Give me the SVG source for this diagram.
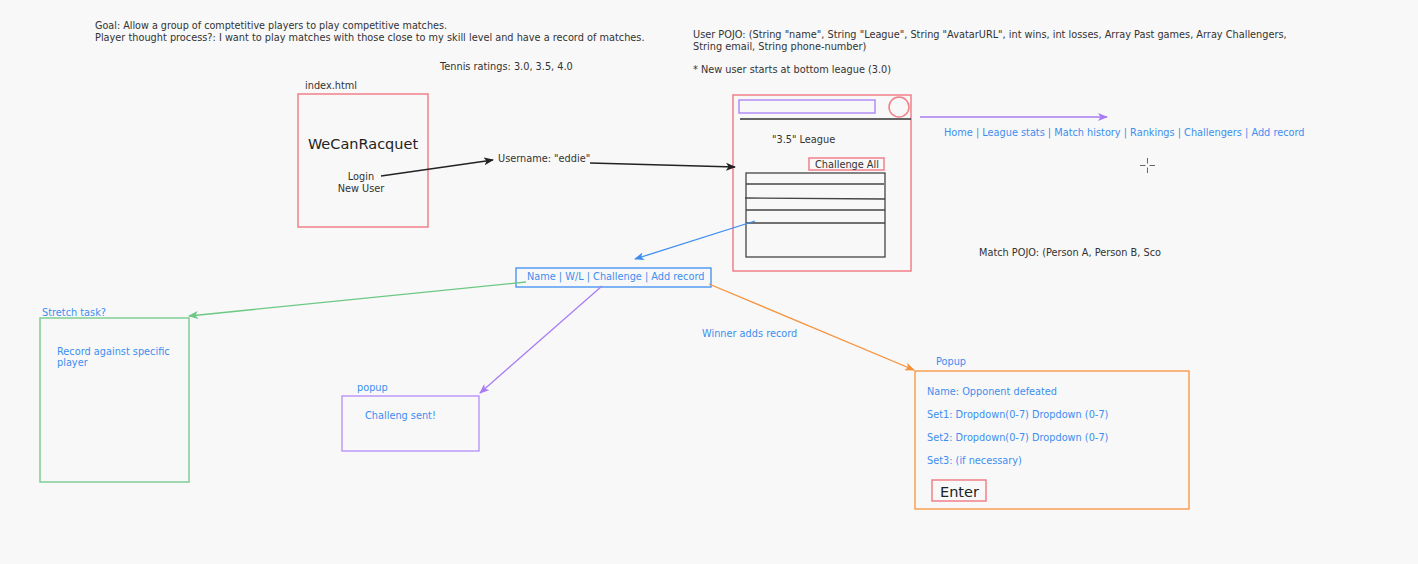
<svg xmlns="http://www.w3.org/2000/svg" width="1418" height="564" viewBox="0 0 1418 564">
  <style>
    text { font-family: "DejaVu Sans", Verdana, sans-serif; font-size: 9.75px; fill: #333; }
    .blue { fill: #3d8ef0; }
    .big { font-size: 14.5px; fill: #222; }
    .red { fill: none; stroke: #f08088; stroke-width: 1.5; }
    .dark { fill: none; stroke: #444; stroke-width: 1.3; }
    .conn { fill: none; stroke-width: 1.3; }
  </style>
  <defs>
    <marker id="ahBlack" markerWidth="10" markerHeight="8" refX="9" refY="4" orient="auto" markerUnits="userSpaceOnUse">
      <path d="M0,0 L10,4 L0,8 L2.5,4 Z" fill="#222"/>
    </marker>
    <marker id="ahBlue" markerWidth="10" markerHeight="8" refX="9" refY="4" orient="auto" markerUnits="userSpaceOnUse">
      <path d="M0,0 L10,4 L0,8 L2.5,4 Z" fill="#3d8ef0"/>
    </marker>
    <marker id="ahPurple" markerWidth="10" markerHeight="8" refX="9" refY="4" orient="auto" markerUnits="userSpaceOnUse">
      <path d="M0,0 L10,4 L0,8 L2.5,4 Z" fill="#a97cf5"/>
    </marker>
    <marker id="ahGreen" markerWidth="10" markerHeight="8" refX="9" refY="4" orient="auto" markerUnits="userSpaceOnUse">
      <path d="M0,0 L10,4 L0,8 L2.5,4 Z" fill="#6cc883"/>
    </marker>
    <marker id="ahOrange" markerWidth="10" markerHeight="8" refX="9" refY="4" orient="auto" markerUnits="userSpaceOnUse">
      <path d="M0,0 L10,4 L0,8 L2.5,4 Z" fill="#f7913a"/>
    </marker>
  </defs>
  <rect width="1418" height="564" fill="#f8f8f8"/>

  <!-- notes -->
  <g id="notes">
    <text x="95" y="29" textLength="352" lengthAdjust="spacingAndGlyphs">Goal: Allow a group of comptetitive players to play competitive matches.</text>
    <text x="95" y="41">Player thought process?: I want to play matches with those close to my skill level and have a record of matches.</text>
    <text x="440" y="70">Tennis ratings: 3.0, 3.5, 4.0</text>
    <text x="693" y="38">User POJO: (String "name", String "League", String "AvatarURL", int wins, int losses, Array Past games, Array Challengers,</text>
    <text x="693" y="50">String email, String phone-number)</text>
    <text x="693" y="73">* New user starts at bottom league (3.0)</text>
    <text x="979" y="256">Match POJO: (Person A, Person B, Sco</text>
    <text x="702" y="337" class="blue">Winner adds record</text>
  </g>

  <!-- landing page -->
  <g id="index">
    <text x="305" y="89">index.html</text>
    <rect x="298" y="94" width="130" height="133" class="red"/>
    <text x="363" y="149" class="big" text-anchor="middle">WeCanRacquet</text>
    <text x="361" y="180" text-anchor="middle">Login</text>
    <text x="361" y="192" text-anchor="middle">New User</text>
  </g>

  <g id="username">
    <text x="498" y="162">Username: "eddie"</text>
  </g>

  <!-- league page mockup -->
  <g id="league">
    <rect x="733" y="95" width="178" height="176" class="red"/>
    <rect x="739" y="100" width="136" height="13" fill="none" stroke="#b48cf7" stroke-width="1.5"/>
    <circle cx="899" cy="107" r="10" class="red"/>
    <line x1="740" y1="119" x2="911" y2="119" stroke="#333" stroke-width="1.6"/>
    <text x="772" y="143">"3.5" League</text>
    <rect x="809" y="158" width="75" height="12" class="red"/>
    <text x="815" y="168" fill="#222">Challenge All</text>
    <rect x="746" y="173" width="139" height="84" class="dark"/>
    <line x1="746" y1="184" x2="884" y2="184" class="dark"/>
    <line x1="745" y1="198" x2="885" y2="199" class="dark"/>
    <line x1="746" y1="210" x2="885" y2="210" class="dark"/>
    <line x1="746" y1="223" x2="885" y2="223" class="dark"/>
  </g>

  <g id="navbar">
    <text x="944" y="136" class="blue">Home | League stats | Match history | Rankings | Challengers | Add record</text>
  </g>

  <!-- small crosshair marker -->
  <g id="cursor" stroke="#666" stroke-width="1">
    <line x1="1140" y1="165.5" x2="1145.5" y2="165.5"/>
    <line x1="1149.5" y1="165.5" x2="1155" y2="165.5"/>
    <line x1="1147.5" y1="158" x2="1147.5" y2="163.5"/>
    <line x1="1147.5" y1="167.5" x2="1147.5" y2="173"/>
  </g>

  <g id="row">
    <rect x="516" y="268" width="195" height="19" fill="none" stroke="#3d8ef0" stroke-width="1.3"/>
    <text x="527" y="280" class="blue">Name | W/L | Challenge | Add record</text>
  </g>

  <g id="stretch">
    <text x="42" y="316" class="blue">Stretch task?</text>
    <rect x="40" y="318" width="149" height="164" fill="none" stroke="#6cc883" stroke-width="1.3"/>
    <text x="57" y="355" class="blue">Record against specific</text>
    <text x="57" y="366" class="blue">player</text>
  </g>

  <g id="challengePopup">
    <text x="357" y="391" class="blue">popup</text>
    <rect x="342" y="396" width="137" height="55" fill="none" stroke="#b48cf7" stroke-width="1.3"/>
    <text x="365" y="419" class="blue">Challeng sent!</text>
  </g>

  <g id="recordPopup">
    <text x="936" y="365" class="blue">Popup</text>
    <rect x="915" y="371" width="274" height="138" fill="none" stroke="#f7913a" stroke-width="1.3"/>
    <text x="927" y="395" class="blue">Name: Opponent defeated</text>
    <text x="927" y="418" class="blue">Set1: Dropdown(0-7) Dropdown (0-7)</text>
    <text x="927" y="441" class="blue">Set2: Dropdown(0-7) Dropdown (0-7)</text>
    <text x="927" y="464" class="blue">Set3: (if necessary)</text>
    <rect x="932" y="480" width="54" height="21" class="red"/>
    <text x="940" y="497" class="big">Enter</text>
  </g>

  <!-- connectors -->
  <g id="connectors">
    <line x1="381" y1="176" x2="493" y2="160" class="conn" stroke="#222" marker-end="url(#ahBlack)"/>
    <line x1="590" y1="163" x2="735" y2="167" class="conn" stroke="#222" marker-end="url(#ahBlack)"/>
    <line x1="920" y1="117" x2="1107" y2="117" class="conn" stroke="#a97cf5" marker-end="url(#ahPurple)"/>
    <line x1="755" y1="221" x2="635" y2="259" class="conn" stroke="#3d8ef0" marker-end="url(#ahBlue)"/>
    <line x1="526" y1="282" x2="189" y2="316" class="conn" stroke="#6cc883" marker-end="url(#ahGreen)"/>
    <line x1="602" y1="286" x2="480" y2="393" class="conn" stroke="#a97cf5" marker-end="url(#ahPurple)"/>
    <line x1="709" y1="284" x2="914" y2="370" class="conn" stroke="#f7913a" marker-end="url(#ahOrange)"/>
  </g>
</svg>
